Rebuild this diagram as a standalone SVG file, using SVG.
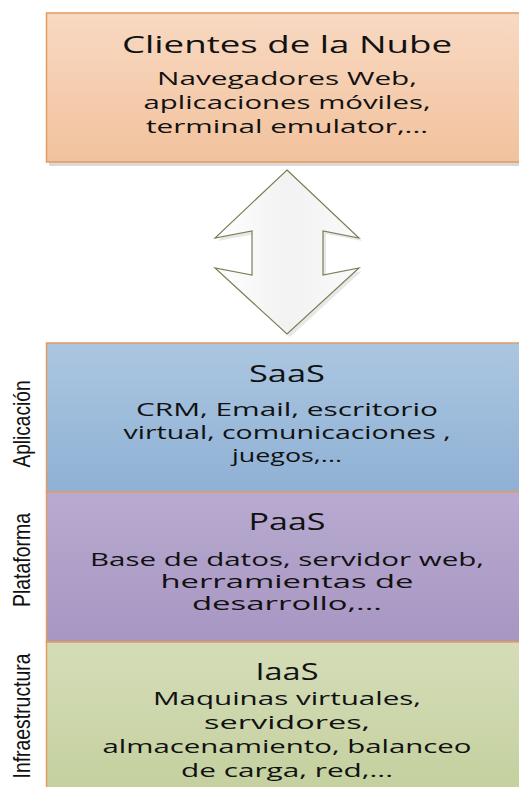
<svg xmlns="http://www.w3.org/2000/svg" width="519" height="787" viewBox="0 0 519 787">
<defs>
<linearGradient id="gTop" x1="0" y1="0" x2="0" y2="1"><stop offset="0" stop-color="#f8d9c2"/><stop offset="1" stop-color="#f2c29d"/></linearGradient>
<linearGradient id="gSaaS" x1="0" y1="0" x2="0" y2="1"><stop offset="0" stop-color="#abc6e0"/><stop offset="1" stop-color="#8fb1d5"/></linearGradient>
<linearGradient id="gPaaS" x1="0" y1="0" x2="0" y2="1"><stop offset="0" stop-color="#b8aad0"/><stop offset="1" stop-color="#a796c2"/></linearGradient>
<linearGradient id="gIaaS" x1="0" y1="0" x2="0" y2="1"><stop offset="0" stop-color="#d5ddb8"/><stop offset="1" stop-color="#c3cf9d"/></linearGradient>
<linearGradient id="gArrow" x1="0" y1="0" x2="1" y2="0"><stop offset="0" stop-color="#ffffff"/><stop offset="0.5" stop-color="#f2f2f2"/><stop offset="1" stop-color="#fafafa"/></linearGradient>
</defs>
<style>
.box{stroke:#e39b5f;stroke-width:1.5}
.t{font-family:"Open Sans","DejaVu Sans",sans-serif;fill:#111;text-anchor:middle}
.h{font-size:24px}
.b{font-size:18px}
.side{font-family:"Liberation Sans",Arial,sans-serif;font-size:24px;fill:#111;text-anchor:middle}
</style>
<g id="clientes">
<rect x="49" y="16" width="480" height="150" fill="#d9d9d9"/>
<rect class="box" x="46.5" y="13" width="480" height="149" fill="url(#gTop)"/>
<text class="t h" x="287" y="53" textLength="330" lengthAdjust="spacingAndGlyphs">Clientes de la Nube</text>
<text class="t b" x="287" y="85" textLength="260" lengthAdjust="spacingAndGlyphs">Navegadores Web,</text>
<text class="t b" x="287" y="109" textLength="287" lengthAdjust="spacingAndGlyphs">aplicaciones móviles,</text>
<text class="t b" x="287" y="133" textLength="282" lengthAdjust="spacingAndGlyphs">terminal emulator,...</text>
</g>
<g id="connectors">
<polygon points="290,173 362,241 326,234 326,278 362,271 290,337 218,271 255,278 255,234 218,241" fill="#d8d8d8" opacity="0.6"/>
<polygon points="287,170 359,238 323,231 323,275 359,268 287,334 215,268 252,275 252,231 215,238" fill="url(#gArrow)" stroke="#7d7d55" stroke-width="1.2" stroke-linejoin="miter"/>
</g>
<g id="saas">
<rect class="box" x="46.5" y="343" width="480" height="149" fill="url(#gSaaS)"/>
<text class="t h" x="287" y="382" textLength="76" lengthAdjust="spacingAndGlyphs">SaaS</text>
<text class="t b" x="287" y="416" textLength="302" lengthAdjust="spacingAndGlyphs">CRM, Email, escritorio</text>
<text class="t b" x="287" y="439" textLength="327" lengthAdjust="spacingAndGlyphs">virtual, comunicaciones ,</text>
<text class="t b" x="287" y="462" textLength="110" lengthAdjust="spacingAndGlyphs">juegos,...</text>
<text class="side" transform="translate(30,424) rotate(-90)" textLength="87" lengthAdjust="spacingAndGlyphs">Aplicación</text>
</g>
<g id="paas">
<rect class="box" x="46.5" y="492" width="480" height="150" fill="url(#gPaaS)"/>
<text class="t h" x="287" y="530" textLength="77" lengthAdjust="spacingAndGlyphs">PaaS</text>
<text class="t b" x="287" y="566" textLength="394" lengthAdjust="spacingAndGlyphs">Base de datos, servidor web,</text>
<text class="t b" x="287" y="588" textLength="253" lengthAdjust="spacingAndGlyphs">herramientas de</text>
<text class="t b" x="287" y="610" textLength="190" lengthAdjust="spacingAndGlyphs">desarrollo,...</text>
<text class="side" transform="translate(30,560) rotate(-90)" textLength="94" lengthAdjust="spacingAndGlyphs">Plataforma</text>
</g>
<g id="iaas">
<rect class="box" x="46.5" y="642" width="480" height="160" fill="url(#gIaaS)"/>
<text class="t h" x="287" y="680" textLength="63" lengthAdjust="spacingAndGlyphs">IaaS</text>
<text class="t b" x="287" y="705" textLength="268" lengthAdjust="spacingAndGlyphs">Maquinas virtuales,</text>
<text class="t b" x="287" y="729" textLength="166" lengthAdjust="spacingAndGlyphs">servidores,</text>
<text class="t b" x="287" y="753" textLength="369" lengthAdjust="spacingAndGlyphs">almacenamiento, balanceo</text>
<text class="t b" x="287" y="777" textLength="212" lengthAdjust="spacingAndGlyphs">de carga, red,...</text>
<text class="side" transform="translate(30,716) rotate(-90)" textLength="125" lengthAdjust="spacingAndGlyphs">Infraestructura</text>
</g>
</svg>
